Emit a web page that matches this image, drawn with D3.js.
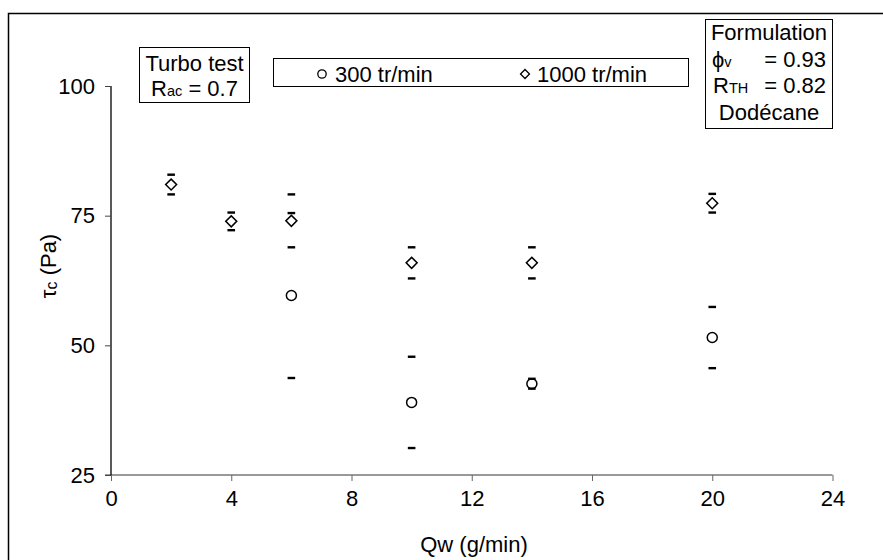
<!DOCTYPE html>
<html><head><meta charset="utf-8">
<script src="https://cdn.jsdelivr.net/npm/d3@7"></script>
<style>
body{margin:0;background:#fff;}
svg text{font-family:"Liberation Sans",Arial,sans-serif;fill:#000;}
</style></head>
<body>
<svg id="chart" width="883" height="560"></svg>
<script>
const xTicks = [0, 4, 8, 12, 16, 20, 24];
const yTicks = [25, 50, 75, 100];
const qw300 = [6, 10, 14, 20];
const tau300 = [59.6, 39.0, 42.6, 51.5];
const err300 = [15.9, 8.8, 0.95, 5.9];
const qw1000 = [2, 4, 6, 10, 14, 20];
const tau1000 = [81.0, 73.9, 74.0, 65.9, 65.9, 77.4];
const err1000 = [1.9, 1.7, 5.1, 3.0, 3.0, 1.8];
const seriesNames = ["300 tr/min", "1000 tr/min"];

const svg = d3.select("#chart");
const FS = 22;
const SUB = 14.5;

// outer chart border
svg.append("rect").attr("x", 8.5).attr("y", 13.5).attr("width", 900).attr("height", 600)
  .attr("fill", "none").attr("stroke", "#000").attr("stroke-width", 1.5);

const x = d3.scaleLinear().domain([0, 24]).range([111, 832.5]);
const y = d3.scaleLinear().domain([25, 100]).range([475, 86]);

// x axis
const gx = svg.append("g").attr("transform", `translate(0,${y(25)})`)
  .call(d3.axisBottom(x).tickValues(xTicks).tickSize(6).tickPadding(9).tickFormat(d3.format("d")));
gx.select(".domain").attr("stroke", "#777").attr("stroke-width", 1.5).attr("d", `M${x(0)-6},0H${x(24)}`);
gx.selectAll(".tick line").attr("stroke", "#666");
gx.selectAll(".tick text").attr("font-size", FS).attr("font-family", "Liberation Sans, Arial, sans-serif").attr("fill", "#000");

// y axis
const gy = svg.append("g").attr("transform", `translate(${x(0)},0)`)
  .call(d3.axisLeft(y).tickValues(yTicks).tickSize(6).tickPadding(10).tickFormat(d3.format("d")));
gy.select(".domain").attr("stroke", "#000").attr("stroke-width", 1.3).attr("d", `M0,${y(100)}V${y(25)}`);
gy.selectAll(".tick line").attr("stroke", "#444");
gy.selectAll(".tick text").attr("font-size", FS).attr("font-family", "Liberation Sans, Arial, sans-serif").attr("fill", "#000");

// axis titles
svg.append("text").attr("x", 474).attr("y", 552).attr("text-anchor", "middle").attr("font-size", FS).text("Qw (g/min)");
const yt = svg.append("text").attr("transform", "translate(56,266) rotate(-90)").attr("text-anchor", "middle").attr("font-size", FS);
yt.append("tspan").text("τ");
yt.append("tspan").attr("font-size", 16).attr("dy", 1).text("c");
yt.append("tspan").attr("dy", -1).text(" (Pa)");

const diamond = d3.symbol().type(d3.symbolSquare).size(60);
// markers 1000
svg.append("g").selectAll("path").data(qw1000).join("path")
  .attr("d", diamond())
  .attr("transform", (d, i) => `translate(${x(d)},${y(tau1000[i])}) rotate(45)`)
  .attr("fill", "#fff").attr("stroke", "#000").attr("stroke-width", 1.5);
// markers 300
svg.append("g").selectAll("circle").data(qw300).join("circle")
  .attr("cx", d => x(d)).attr("cy", (d, i) => y(tau300[i])).attr("r", 5)
  .attr("fill", "#fff").attr("stroke", "#000").attr("stroke-width", 1.5);

// error caps
function caps(xs, vs, es) {
  const g = svg.append("g");
  xs.forEach((q, i) => {
    [vs[i] + es[i], vs[i] - es[i]].forEach(v => {
      g.append("line").attr("x1", x(q) - 3.8).attr("x2", x(q) + 3.8)
        .attr("y1", y(v)).attr("y2", y(v)).attr("stroke", "#000").attr("stroke-width", 2.4);
    });
  });
}
caps(qw1000, tau1000, err1000);
caps(qw300, tau300, err300);

// legend
svg.append("rect").attr("x", 273.5).attr("y", 58.5).attr("width", 415).attr("height", 28)
  .attr("fill", "#fff").attr("stroke", "#000").attr("stroke-width", 1);
svg.append("circle").attr("cx", 322).attr("cy", 74).attr("r", 4.2).attr("fill", "#fff").attr("stroke", "#000").attr("stroke-width", 1.3);
svg.append("text").attr("x", 335).attr("y", 82).attr("font-size", FS).text(seriesNames[0]);
svg.append("path").attr("d", d3.symbol().type(d3.symbolSquare).size(40)())
  .attr("transform", "translate(525,74) rotate(45)").attr("fill", "#fff").attr("stroke", "#000").attr("stroke-width", 1.3);
svg.append("text").attr("x", 537).attr("y", 82).attr("font-size", FS).text(seriesNames[1]);

// Turbo test box
svg.append("rect").attr("x", 139.5).attr("y", 47.5).attr("width", 110).attr("height", 55)
  .attr("fill", "#fff").attr("stroke", "#000").attr("stroke-width", 1);
svg.append("text").attr("x", 194.5).attr("y", 70.5).attr("text-anchor", "middle").attr("font-size", FS).text("Turbo test");
const rac = svg.append("text").attr("x", 194.5).attr("y", 96).attr("text-anchor", "middle").attr("font-size", FS);
rac.append("tspan").text("R");
rac.append("tspan").attr("font-size", SUB).text("ac");
rac.append("tspan").text(" = 0.7");

// Formulation box
svg.append("rect").attr("x", 705.5).attr("y", 19.5).attr("width", 127).attr("height", 109)
  .attr("fill", "#fff").attr("stroke", "#000").attr("stroke-width", 1);
svg.append("text").attr("x", 769).attr("y", 40).attr("text-anchor", "middle").attr("font-size", FS).text("Formulation");
const phi = svg.append("text").attr("x", 712).attr("y", 66.5).attr("font-size", FS);
phi.append("tspan").text("ϕ");
phi.append("tspan").attr("font-size", SUB).text("v");
svg.append("text").attr("x", 826).attr("y", 66.5).attr("text-anchor", "end").attr("font-size", FS).text("= 0.93");
const rth = svg.append("text").attr("x", 713).attr("y", 93).attr("font-size", FS);
rth.append("tspan").text("R");
rth.append("tspan").attr("font-size", SUB).text("TH");
svg.append("text").attr("x", 826).attr("y", 93).attr("text-anchor", "end").attr("font-size", FS).text("= 0.82");
svg.append("text").attr("x", 769).attr("y", 119.5).attr("text-anchor", "middle").attr("font-size", FS).text("Dodécane");
</script>
</body></html>
